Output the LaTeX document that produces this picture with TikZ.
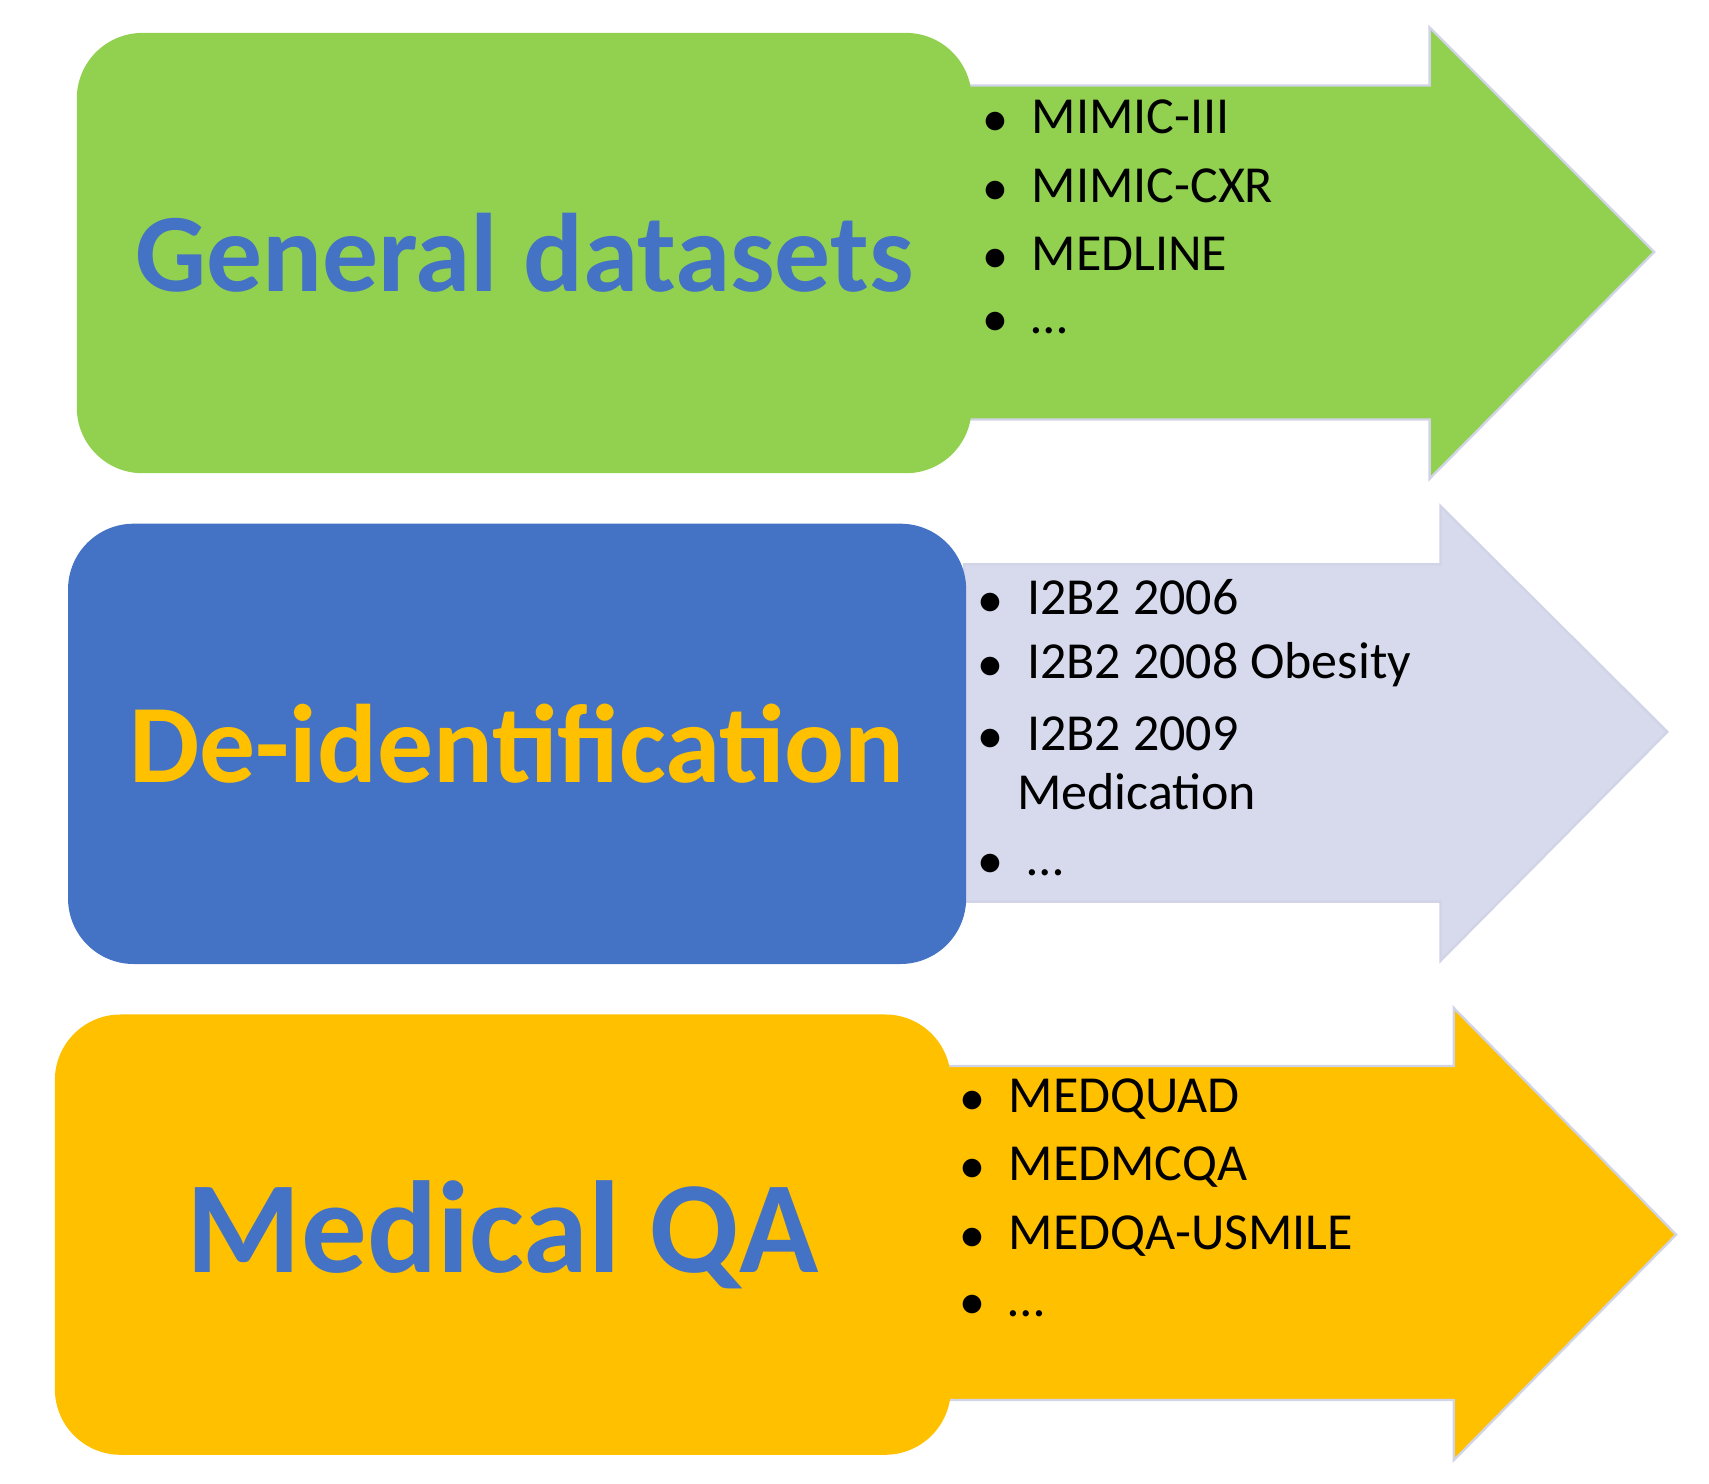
\documentclass[tikz,border=0pt]{standalone}
\usepackage{fontspec}
\setmainfont{Carlito}
\definecolor{cgreen}{HTML}{92D050}
\definecolor{cblue}{HTML}{4472C4}
\definecolor{cyel}{HTML}{FFC000}
\definecolor{clav}{HTML}{D6DAEC}
\definecolor{cedge}{HTML}{D0D4E6}
\newcommand{\myell}{\textellipsis}
\begin{document}
\begin{tikzpicture}[x=0.02cm,y=-0.02cm,
  box/.style={rounded corners=1.2cm},
  arr/.style={draw=cedge,line width=1.2pt},
  title/.style={font=\fontsize{58}{60}\selectfont\bfseries},
  item/.style={anchor=west,font=\fontsize{27}{30}\selectfont,inner sep=0pt}]
\useasboundingbox (0,0) rectangle (1560,1354);
% row 1
\path[arr,fill=cgreen] (885,78) -- (1305,78) -- (1305,25) -- (1510,230) -- (1305,437) -- (1305,383) -- (885,383) -- cycle;
\node[box,fill=cgreen,minimum width=16.34cm,minimum height=8.04cm] (b1) at (478.5,231) {};
\node[title,text=cblue] (t1) at (b1.center) {General datasets};
% row 2
\path[arr,fill=clav] (880,515) -- (1315,515) -- (1315,462) -- (1522,668) -- (1315,877) -- (1315,823) -- (880,823) -- cycle;
\node[box,fill=cblue,minimum width=16.4cm,minimum height=8.04cm] (b2) at (472,679) {};
\node[title,text=cyel] (t2) at (b2.center) {De-identification};
% row 3
\path[arr,fill=cyel] (866,973) -- (1327,973) -- (1327,920) -- (1530,1127) -- (1327,1333) -- (1327,1278) -- (866,1278) -- cycle;
\node[box,fill=cyel,minimum width=16.36cm,minimum height=8.04cm] (b3) at (459,1127) {};
\node[font=\fontsize{68}{70}\selectfont\bfseries,text=cblue] (t3) at (b3.center) {Medical QA};
% lists
\foreach \t/\y [count=\i] in {MIMIC-III/107,MIMIC-CXR/170,MEDLINE/232,\myell/295}
  \node[item] (a\i) at (897,\y) {$\bullet$\hspace{0.45cm}\t};
\foreach \t/\y [count=\i] in {I2B2 2006/545,I2B2 2008 Obesity/607,I2B2 2009/670,\myell/790}
  \node[item] (c\i) at (893,\y) {$\bullet$\hspace{0.45cm}\t};
\node[item] (cm) at (928,723) {Medication};
\foreach \t/\y [count=\i] in {MEDQUAD/1003,MEDMCQA/1065,MEDQA-USMILE/1128,\myell/1192}
  \node[item] (d\i) at (876,\y) {$\bullet$\hspace{0.45cm}\t};
\end{tikzpicture}
\end{document}
